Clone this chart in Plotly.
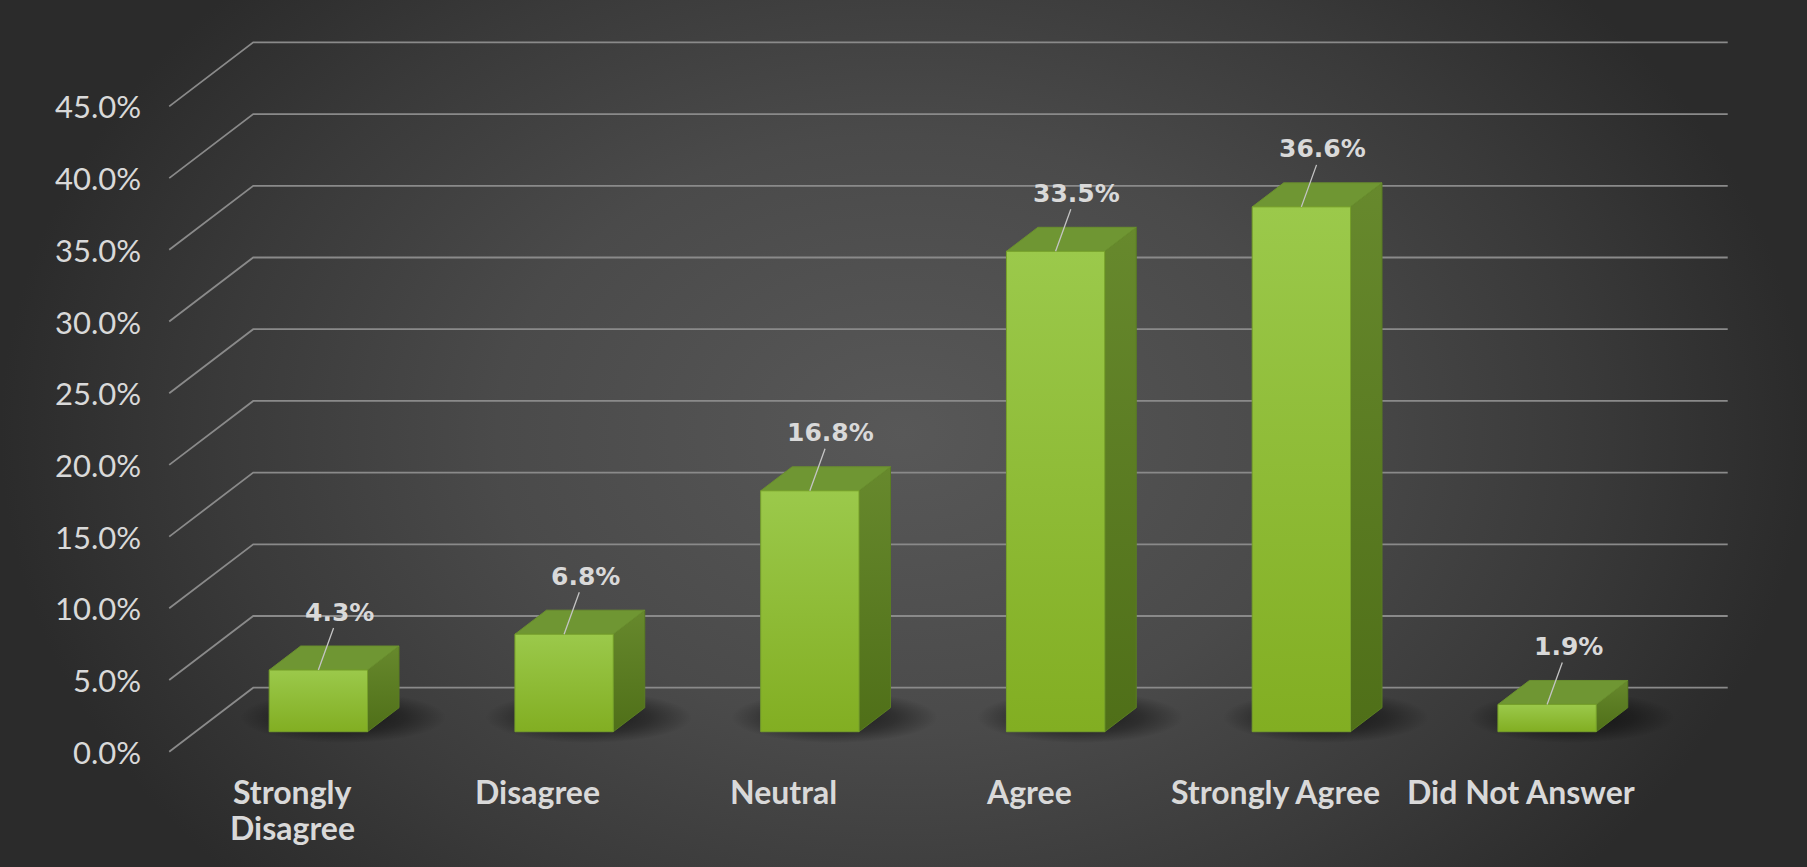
import numpy as np
import plotly.graph_objects as go

# ---- chart data -----------------------------------------------------------
categories = ["Strongly<br>Disagree", "Disagree", "Neutral", "Agree",
              "Strongly Agree", "Did Not Answer"]
values = [4.3, 6.8, 16.8, 33.5, 36.6, 1.9]          # percent of responses
tick_values = [0, 5, 10, 15, 20, 25, 30, 35, 40, 45]
tick_labels = ["0.0%", "5.0%", "10.0%", "15.0%", "20.0%", "25.0%",
               "30.0%", "35.0%", "40.0%", "45.0%"]

# ---- geometry of the pseudo-3D plot ----------------------------------------
W, H = 1807, 867
X_RANGE = [-1.1886, 6.1644]      # category units across the full page
Y_RANGE = [-8.04, 52.42]         # percent units down the full page
DX, DY = 0.3418, 4.463           # offset from the front plane to the back wall
F0, F1 = 0.3125, 0.6875          # depth fractions of the bar front / back faces
HALF = 0.2                       # half of the bar width (gap width 150%)

TEXT = "#d9d9d9"
GRID = "#8a8a8a"
FONT = "Lato"

fig = go.Figure()

# background: soft radial light behind the plot (taller than the page so the
# top and bottom edges stay lighter than the sides)
bg_pad = 16
fig.add_trace(go.Scatter(
    x=[X_RANGE[0], X_RANGE[1], X_RANGE[1], X_RANGE[0], X_RANGE[0]],
    y=[Y_RANGE[0] - bg_pad, Y_RANGE[0] - bg_pad, Y_RANGE[1] + bg_pad,
       Y_RANGE[1] + bg_pad, Y_RANGE[0] - bg_pad],
    mode="lines", line=dict(width=0), fill="toself",
    fillgradient=dict(type="radial",
                      colorscale=[[0, "#585858"], [0.45, "#4a4a4a"],
                                  [0.75, "#3a3a3a"], [1, "#2b2b2b"]]),
    hoverinfo="skip", showlegend=False))

# gridlines: diagonal floor edge on the left, horizontal lines on the back wall
gx, gy = [], []
n_cat = len(categories)
for t in tick_values:
    gx += [-0.5, -0.5 + DX, n_cat - 0.5 + DX, None]
    gy += [t, t + DY, t + DY, None]
fig.add_trace(go.Scatter(x=gx, y=gy, mode="lines",
                         line=dict(color=GRID, width=1.8),
                         hoverinfo="skip", showlegend=False))

# soft shadows under the bars
theta = np.linspace(0, 2 * np.pi, 73)
for i, v in enumerate(values):
    cx = i + F0 * DX + 0.10
    cy = F0 * DY + 1.0
    fig.add_trace(go.Scatter(
        x=cx + 0.42 * np.cos(theta), y=cy + 1.8 * np.sin(theta),
        mode="lines", line=dict(width=0), fill="toself",
        fillgradient=dict(type="radial",
                          colorscale=[[0, "rgba(0,0,0,0.65)"], [0.6, "rgba(0,0,0,0.35)"],
                                      [1, "rgba(0,0,0,0)"]]),
        hoverinfo="skip", showlegend=False))

# bars: side face, top face, front face
for i, v in enumerate(values):
    xf0, xf1 = i - HALF + F0 * DX, i + HALF + F0 * DX
    xb0, xb1 = i - HALF + F1 * DX, i + HALF + F1 * DX
    yb, yt = F0 * DY, v + F0 * DY
    ybb, ytb = F1 * DY, v + F1 * DY

    fig.add_trace(go.Scatter(
        x=[xf1, xb1, xb1, xf1, xf1], y=[yb, ybb, ytb, yt, yb],
        mode="lines", line=dict(color="#5a7d22", width=1), fill="toself",
        fillgradient=dict(type="vertical",
                          colorscale=[[0, "#4f6f18"], [1, "#67892d"]]),
        hoverinfo="skip", showlegend=False))
    fig.add_trace(go.Scatter(
        x=[xf0, xf1, xb1, xb0, xf0], y=[yt, yt, ytb, ytb, yt],
        mode="lines", line=dict(color="#6a8f2e", width=1), fill="toself",
        fillcolor="#6f9633", hoverinfo="skip", showlegend=False))
    fig.add_trace(go.Scatter(
        x=[xf0, xf1, xf1, xf0, xf0], y=[yb, yb, yt, yt, yb],
        mode="lines", line=dict(color="#76a02a", width=1), fill="toself",
        fillgradient=dict(type="vertical",
                          colorscale=[[0, "#82ae22"], [1, "#9bc94b"]]),
        hoverinfo="skip", showlegend=False))

annotations = []

# value labels with leader lines
for i, v in enumerate(values):
    annotations.append(dict(
        x=i + F0 * DX, y=v + F0 * DY, xref="x", yref="y",
        text=f"{v:.1f}%", showarrow=True, arrowhead=0, arrowwidth=1.3,
        arrowcolor="#c4c4c4", ax=21, ay=-58,
        font=dict(family="DejaVu Sans", size=25, color=TEXT, weight="bold")))

# y tick labels on the front plane
for t, lab in zip(tick_values, tick_labels):
    annotations.append(dict(
        x=-0.5, y=t, xref="x", yref="y", text=lab, showarrow=False,
        xanchor="right", yanchor="middle", xshift=-26,
        font=dict(family=FONT, size=31, color=TEXT)))

# category labels below the floor (wrapped lines set with a tight leading)
CAT_TOP_SHIFT, CAT_LEADING = -18, 36
for i, c in enumerate(categories):
    for k, line in enumerate(c.split("<br>")):
        annotations.append(dict(
            x=i, y=0, xref="x", yref="y", text=line, showarrow=False,
            xanchor="center", yanchor="top",
            yshift=CAT_TOP_SHIFT - CAT_LEADING * k,
            font=dict(family=FONT, size=32, color=TEXT, weight="bold")))

fig.update_layout(
    width=W, height=H,
    margin=dict(l=0, r=0, t=0, b=0),
    paper_bgcolor="#2c2c2c", plot_bgcolor="#2c2c2c",
    showlegend=False,
    xaxis=dict(range=X_RANGE, visible=False, fixedrange=True),
    yaxis=dict(range=Y_RANGE, visible=False, fixedrange=True),
    annotations=annotations,
)

fig.write_html("out.html")
